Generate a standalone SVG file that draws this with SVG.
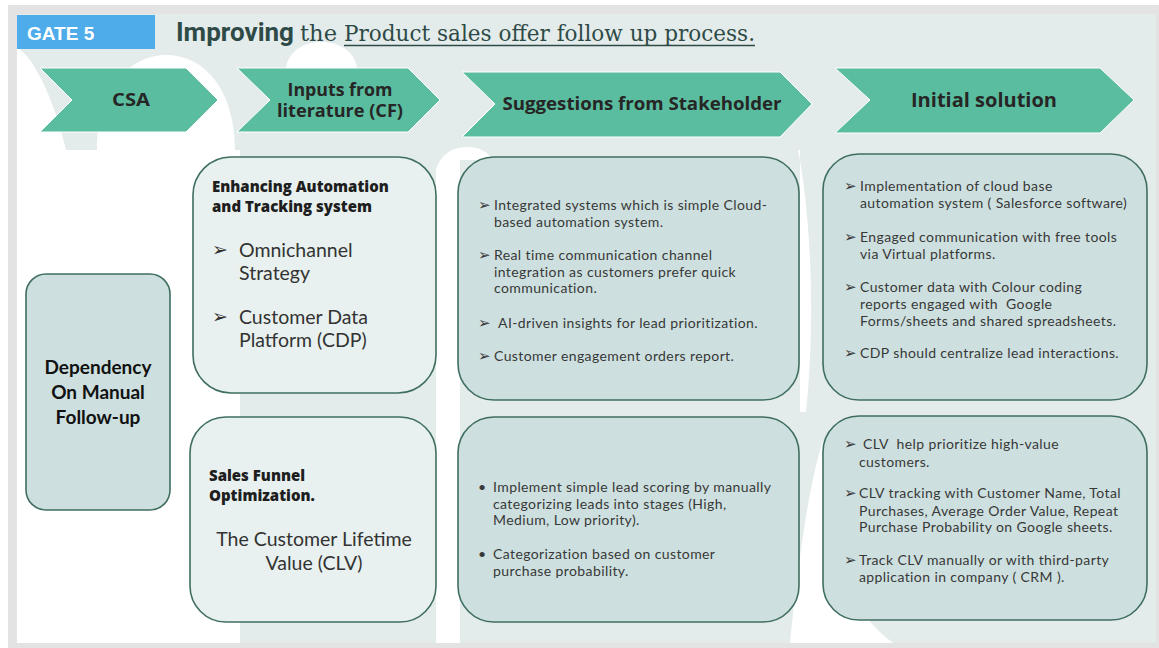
<svg xmlns="http://www.w3.org/2000/svg" width="1159" height="648" viewBox="0 0 1159 648">
  <style>
    .chev { fill: #5bbd9f; stroke: #ffffff; stroke-width: 1; }
    .chev-t { font-family: "Open Sans", Lato, sans-serif; font-weight: 700; fill: #262626; text-anchor: middle; }
    .box-d { fill: #cde0df; stroke: #3f6e60; stroke-width: 1.6; }
    .box-l { fill: #e8f1ef; stroke: #3f6e60; stroke-width: 1.6; }
    .s { font-family: Lato, "Open Sans", sans-serif; font-size: 14px; letter-spacing: 0.4px; fill: #383838; }
    .b { font-family: "DejaVu Sans", sans-serif; font-size: 15px; fill: #383838; }
    .hd { font-family: "Open Sans", Lato, sans-serif; font-weight: 800; font-size: 15px; fill: #1e1e1e; }
    .m { font-family: Lato, "Open Sans", sans-serif; font-size: 19.5px; fill: #333333; }
    .bm { font-family: "DejaVu Sans", sans-serif; font-size: 19px; fill: #303030; }
  </style>

  <!-- page frame -->
  <rect x="0" y="0" width="1159" height="648" fill="#ffffff"/>
  <rect x="8" y="5" width="1151" height="643" fill="#e3e3e3"/>
  <rect x="17" y="14" width="1139" height="629" fill="#e4eceb"/>

  <!-- decorative background blobs -->
  <g id="backdrop" fill="#ffffff">
    <path d="M17,48 C32,54 54,98 66,150 L97,150 C97,92 128,55 166,55 C206,55 235,92 235,150 L240,150 L240,643 L17,643 Z"/>
    <path d="M286,68 C288,52 303,42 321,42 C340,42 355,52 357,68 Z"/>
    <path d="M436,643 L436,170 C440,155 452,147 467,147 C480,147 490,153 492,160 L460,160 L460,643 Z"/>
    <path d="M798,150 C812,220 815,330 806,412 L800,412 L800,150 Z"/>
    <path d="M790,643 C798,560 810,480 823,440 L823,520 C832,570 856,615 893,643 Z"/>
  </g>

  <!-- header -->
  <g id="header">
    <rect x="17" y="15" width="138" height="34" fill="#4eacea"/>
    <text x="27" y="40" font-family="Liberation Sans, Arial, sans-serif" font-weight="700" font-size="19" fill="#ffffff">GATE 5</text>
    <text x="176" y="41" font-family="Roboto, sans-serif" font-weight="700" font-size="25" fill="#2e4a47" textLength="118" lengthAdjust="spacingAndGlyphs">Improving</text>
    <text x="300" y="41" font-family="DejaVu Serif, serif" font-size="22" fill="#2e4a47" textLength="37" lengthAdjust="spacingAndGlyphs">the</text>
    <text x="344" y="41" font-family="DejaVu Serif, serif" font-size="22" fill="#2e4a47" textLength="411" lengthAdjust="spacingAndGlyphs">Product sales offer follow up process.</text>
    <line x1="344" y1="45.5" x2="755" y2="45.5" stroke="#2e4a47" stroke-width="1.6"/>
  </g>

  <!-- process chevrons -->
  <g id="chev-csa">
    <polygon class="chev" points="40,68 186,68 218,100 186,132 40,132 72,100"/>
    <text class="chev-t" x="131" y="106" font-size="17" textLength="38" lengthAdjust="spacingAndGlyphs">CSA</text>
  </g>
  <g id="chev-cf">
    <polygon class="chev" points="237,68 408,68 440,100 408,132 237,132 270,100"/>
    <text class="chev-t" x="340" y="96" font-size="17" textLength="105" lengthAdjust="spacingAndGlyphs">Inputs from</text>
    <text class="chev-t" x="340" y="117" font-size="17" textLength="126" lengthAdjust="spacingAndGlyphs">literature (CF)</text>
  </g>
  <g id="chev-stakeholder">
    <polygon class="chev" points="462,72 780,72 812,104 780,137 462,137 495,104"/>
    <text class="chev-t" x="642" y="110" font-size="17" textLength="279" lengthAdjust="spacingAndGlyphs">Suggestions from Stakeholder</text>
  </g>
  <g id="chev-solution">
    <polygon class="chev" points="835,68 1100,68 1134,100 1100,133 835,133 870,100"/>
    <text class="chev-t" x="984" y="107" font-size="19" textLength="146" lengthAdjust="spacingAndGlyphs">Initial solution</text>
  </g>

  <!-- CSA problem -->
  <g id="csa-problem">
    <rect class="box-d" x="26" y="274" width="144" height="236" rx="20"/>
    <g font-family="Lato, 'Open Sans', sans-serif" font-weight="700" font-size="19" fill="#111" text-anchor="middle">
      <text x="98" y="374">Dependency</text>
      <text x="98" y="399">On Manual</text>
      <text x="98" y="424">Follow-up</text>
    </g>
  </g>

  <!-- literature inputs -->
  <g id="cf-automation">
    <rect class="box-l" x="193" y="157" width="243" height="236" rx="38"/>
    <text class="hd" x="212" y="192">Enhancing Automation</text>
    <text class="hd" x="212" y="212">and Tracking system</text>
    <text class="bm" x="212" y="256">➢</text>
    <text class="m" x="239" y="257">Omnichannel</text>
    <text class="m" x="239" y="280">Strategy</text>
    <text class="bm" x="212" y="323">➢</text>
    <text class="m" x="239" y="324">Customer Data</text>
    <text class="m" x="239" y="347">Platform (CDP)</text>
  </g>
  <g id="cf-funnel">
    <rect class="box-l" x="190" y="417" width="246" height="205" rx="36"/>
    <text class="hd" x="209" y="481">Sales Funnel</text>
    <text class="hd" x="209" y="501">Optimization.</text>
    <text class="m" x="314" y="546" text-anchor="middle">The Customer Lifetime</text>
    <text class="m" x="314" y="570" text-anchor="middle">Value (CLV)</text>
  </g>

  <!-- stakeholder suggestions -->
  <g id="stakeholder-automation">
    <rect class="box-d" x="458" y="157" width="341" height="243" rx="36"/>
    <text class="b" x="478" y="210">➢</text>
    <text class="s" x="494" y="210">Integrated systems which is simple Cloud-</text>
    <text class="s" x="494" y="227">based automation system.</text>
    <text class="b" x="478" y="260">➢</text>
    <text class="s" x="494" y="260">Real time communication channel</text>
    <text class="s" x="494" y="277">integration as customers prefer quick</text>
    <text class="s" x="494" y="293">communication.</text>
    <text class="b" x="478" y="328">➢</text>
    <text class="s" x="498" y="328">AI-driven insights for lead prioritization.</text>
    <text class="b" x="478" y="361">➢</text>
    <text class="s" x="494" y="361">Customer engagement orders report.</text>
  </g>
  <g id="stakeholder-funnel">
    <rect class="box-d" x="458" y="417" width="341" height="205" rx="36"/>
    <text class="s" x="478" y="492">•</text>
    <text class="s" x="493" y="492">Implement simple lead scoring by manually</text>
    <text class="s" x="493" y="509">categorizing leads into stages (High,</text>
    <text class="s" x="493" y="525">Medium, Low priority).</text>
    <text class="s" x="478" y="559">•</text>
    <text class="s" x="493" y="559">Categorization based on customer</text>
    <text class="s" x="493" y="576">purchase probability.</text>
  </g>

  <!-- initial solution -->
  <g id="solution-automation">
    <rect class="box-d" x="823" y="154" width="324" height="246" rx="36"/>
    <text class="b" x="844" y="191">➢</text>
    <text class="s" x="860" y="191">Implementation of cloud base</text>
    <text class="s" x="860" y="208">automation system ( Salesforce software)</text>
    <text class="b" x="844" y="242">➢</text>
    <text class="s" x="860" y="242">Engaged communication with free tools</text>
    <text class="s" x="860" y="259">via Virtual platforms.</text>
    <text class="b" x="844" y="292">➢</text>
    <text class="s" x="860" y="292">Customer data with Colour coding</text>
    <text class="s" x="860" y="309" xml:space="preserve">reports engaged with  Google</text>
    <text class="s" x="860" y="326">Forms/sheets and shared spreadsheets.</text>
    <text class="b" x="844" y="358">➢</text>
    <text class="s" x="860" y="358">CDP should centralize lead interactions.</text>
  </g>
  <g id="solution-funnel">
    <rect class="box-d" x="823" y="416" width="324" height="204" rx="36"/>
    <text class="b" x="844" y="449">➢</text>
    <text class="s" x="863" y="449" xml:space="preserve">CLV  help prioritize high-value</text>
    <text class="s" x="859" y="467">customers.</text>
    <text class="b" x="844" y="498">➢</text>
    <text class="s" x="859" y="498">CLV tracking with Customer Name, Total</text>
    <text class="s" x="859" y="516">Purchases, Average Order Value, Repeat</text>
    <text class="s" x="859" y="532">Purchase Probability on Google sheets.</text>
    <text class="b" x="844" y="565">➢</text>
    <text class="s" x="859" y="565">Track CLV manually or with third-party</text>
    <text class="s" x="859" y="582">application in company ( CRM ).</text>
  </g>
</svg>
